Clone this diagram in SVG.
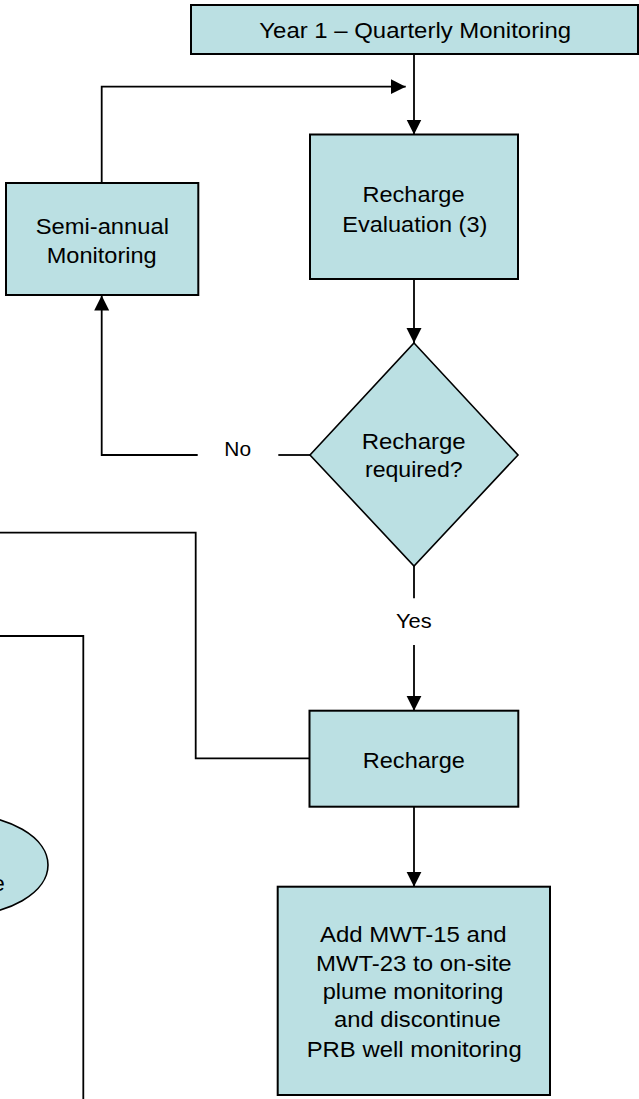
<svg xmlns="http://www.w3.org/2000/svg" width="639" height="1099" viewBox="0 0 639 1099">
<style>
.box{fill:#BBE0E3;stroke:#000;stroke-width:2}
.dia{fill:#BBE0E3;stroke:#000;stroke-width:1.6}
.ln{fill:none;stroke:#000;stroke-width:1.8}
.t{font-family:"Liberation Sans",Arial,sans-serif;font-size:22px;fill:#000;text-anchor:middle}
.lb{font-family:"Liberation Sans",Arial,sans-serif;font-size:20px;fill:#000;text-anchor:middle}
</style>
<defs>
<marker id="arr" markerUnits="userSpaceOnUse" markerWidth="16" markerHeight="16" refX="15" refY="7.5" orient="auto">
<path d="M0,0 L15,7.5 L0,15 z" fill="#000"/>
</marker>
</defs>
<rect width="639" height="1099" fill="#fff"/>
<g id="connectors">
<path class="ln" d="M414,54 L414,134.5" marker-end="url(#arr)"/>
<path class="ln" d="M101.7,183 L101.7,86.7 L405.7,86.7" marker-end="url(#arr)"/>
<path class="ln" d="M414,279 L414,343" marker-end="url(#arr)"/>
<path class="ln" d="M310,455 L278.3,455"/>
<path class="ln" d="M197.7,455 L101.7,455 L101.7,295.5" marker-end="url(#arr)"/>
<path class="ln" d="M414,566 L414,598.3"/>
<path class="ln" d="M414,645 L414,710.7" marker-end="url(#arr)"/>
<path class="ln" d="M309.5,758.3 L195.7,758.3 L195.7,532.7 L-5,532.7"/>
<path class="ln" d="M-5,636 L83.3,636 L83.3,1105"/>
<path class="ln" d="M414,806.7 L414,886.7" marker-end="url(#arr)"/>
<text class="lb" x="237.7" y="456" textLength="26.7" lengthAdjust="spacingAndGlyphs">No</text>
<text class="lb" x="413.8" y="628.3" textLength="35.7" lengthAdjust="spacingAndGlyphs">Yes</text>
</g>
<g id="year1">
<rect class="box" x="191" y="5" width="447" height="49"/>
<text class="t" x="415.2" y="38.3" textLength="311.7" lengthAdjust="spacingAndGlyphs">Year 1 – Quarterly Monitoring</text>
</g>
<g id="recharge-evaluation">
<rect class="box" x="310" y="134.5" width="208" height="144.5"/>
<text class="t" x="413.5" y="202" textLength="102" lengthAdjust="spacingAndGlyphs">Recharge</text>
<text class="t" x="414.8" y="231.7" textLength="145" lengthAdjust="spacingAndGlyphs">Evaluation (3)</text>
</g>
<g id="semi-annual">
<rect class="box" x="6" y="183" width="192.3" height="112"/>
<text class="t" x="102.3" y="234" textLength="133.3" lengthAdjust="spacingAndGlyphs">Semi-annual</text>
<text class="t" x="101.7" y="263" textLength="110" lengthAdjust="spacingAndGlyphs">Monitoring</text>
</g>
<g id="decision">
<polygon class="dia" points="414,343 518,455 414,566 310,455"/>
<text class="t" x="413.7" y="449" textLength="104" lengthAdjust="spacingAndGlyphs">Recharge</text>
<text class="t" x="413.8" y="476.7" textLength="97.7" lengthAdjust="spacingAndGlyphs">required?</text>
</g>
<g id="recharge">
<rect class="box" x="309.5" y="710.7" width="208.8" height="96"/>
<text class="t" x="413.8" y="767.7" textLength="102" lengthAdjust="spacingAndGlyphs">Recharge</text>
</g>
<g id="add-mwt">
<rect class="box" x="277.7" y="886.7" width="272.3" height="208.3"/>
<text class="t" x="413.3" y="942.3" textLength="186.7" lengthAdjust="spacingAndGlyphs">Add MWT-15 and</text>
<text class="t" x="413.8" y="970.5" textLength="195.7" lengthAdjust="spacingAndGlyphs">MWT-23 to on-site</text>
<text class="t" x="413" y="999" textLength="180.7" lengthAdjust="spacingAndGlyphs">plume monitoring</text>
<text class="t" x="417.3" y="1027.3" textLength="166.7" lengthAdjust="spacingAndGlyphs">and discontinue</text>
<text class="t" x="414.2" y="1056.5" textLength="215" lengthAdjust="spacingAndGlyphs">PRB well monitoring</text>
</g>
<g id="ellipse-node">
<ellipse class="dia" cx="-40" cy="865" rx="88" ry="50.5"/>
<text class="t" x="-7.5" y="890.5" style="text-anchor:start">e</text>
</g>
</svg>
